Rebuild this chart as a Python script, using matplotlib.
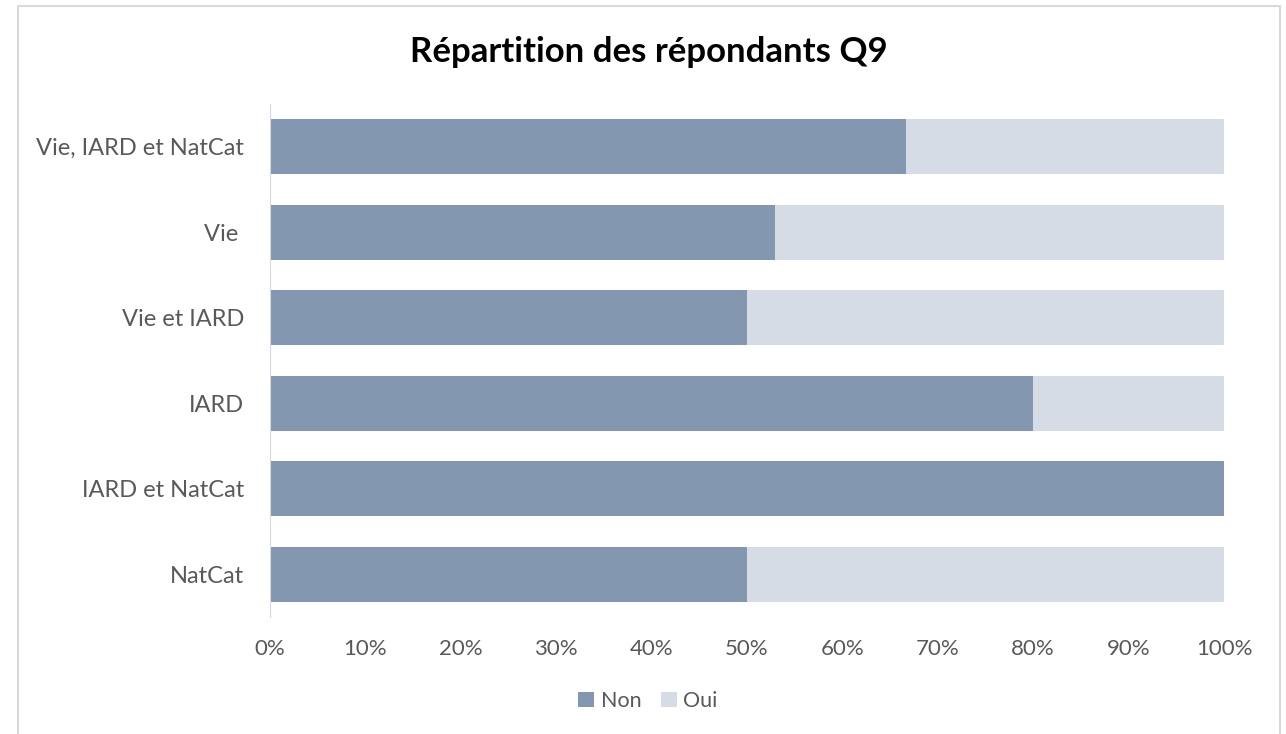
import matplotlib.pyplot as plt
from matplotlib.patches import Rectangle
from matplotlib.ticker import PercentFormatter

categories = ["Vie, IARD et NatCat", "Vie ", "Vie et IARD", "IARD", "IARD et NatCat", "NatCat"]
non = [66.7, 52.9, 50.0, 80.0, 100.0, 50.0]
oui = [33.3, 47.1, 50.0, 20.0, 0.0, 50.0]

plt.rcParams['font.family'] = ['Lato', 'DejaVu Sans']
text_col = '#595959'

fig = plt.figure(figsize=(12.86, 7.34), dpi=100)
ax = fig.add_axes([270 / 1286, 1 - 617 / 734, (1224 - 270) / 1286, 513 / 734])

# cadre gris autour du graphique
fig.patches.append(Rectangle((18 / 1286, -0.05), (1280 - 18) / 1286, 1.05 - 6 / 734,
                             transform=fig.transFigure, fill=False,
                             edgecolor='#d9d9d9', linewidth=1.5))

ypos = list(range(len(categories)))[::-1]
ax.barh(ypos, non, height=0.645, color='#8497b0', label='Non')
ax.barh(ypos, oui, left=non, height=0.645, color='#d6dce5', label='Oui')

ax.set_xlim(0, 100)
ax.set_ylim(-0.5, len(categories) - 0.5)
ax.set_xticks(range(0, 101, 10))
ax.xaxis.set_major_formatter(PercentFormatter(decimals=0))
ax.set_yticks(ypos)
ax.set_yticklabels(categories)

for s in ['top', 'right', 'bottom']:
    ax.spines[s].set_visible(False)
ax.spines['left'].set_color('#d9d9d9')
ax.tick_params(length=0, labelsize=16, colors=text_col)
ax.tick_params(axis='y', pad=18.5, labelsize=17)
ax.tick_params(axis='x', pad=15.5)

fig.text(649 / 1286, 1 - 52 / 734, "Répartition des répondants Q9", ha='center', va='center',
         fontsize=25, fontweight='bold', color='black')

fig.legend(loc='center', bbox_to_anchor=(648 / 1286, 1 - 701 / 734), ncol=2, frameon=False,
           fontsize=15.5, labelcolor=text_col, handlelength=0.75, handleheight=0.75,
           handletextpad=0.3, columnspacing=0.9)

fig.savefig('out.png', dpi=100)
